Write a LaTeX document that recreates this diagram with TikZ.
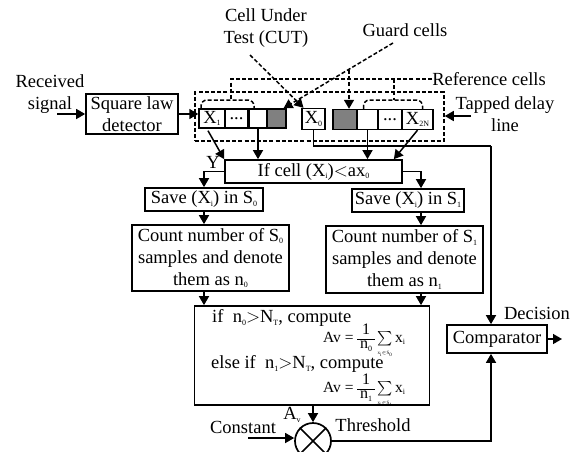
\documentclass[tikz,border=0pt]{standalone}
\usepackage{amsmath}
\usepackage{fix-cm}
\usepackage{fontspec}
\setmainfont{Liberation Serif}
\usepackage{tikz}
\usetikzlibrary{arrows.meta, positioning}
\definecolor{cellGray}{RGB}{128,128,128}
\newcommand{\lowtx}[1]{\raisebox{-0.3ex}{\fontsize{8}{8}\selectfont #1}}
\newcommand{\fracone}[1]{\begingroup\renewcommand{\arraystretch}{0.85}\fontsize{16}{16}\selectfont
  $\vcenter{\hbox{\begin{tabular}{@{\,}c@{\,}}1\\\hline n\lowtx{#1}\end{tabular}}}$\endgroup}
\newcommand{\avform}[1]{\fontsize{15.5}{16}\selectfont Av = \fracone{#1}\,$\mathop{\sum}\limits_{\text{\fontsize{5}{5}\selectfont x\textsubscript{i}$\in$S\textsubscript{#1}}}$\,x\lowtx{i}}

\begin{document}
\begin{tikzpicture}[x=1pt, y=-1pt,
  box/.style={rectangle, draw, line width=1.7pt, fill=white, inner sep=0pt, align=center,
              font=\fontsize{18.5}{22}\selectfont},
  cell/.style={box, line width=1.4pt},
  graycell/.style={cell, fill=cellGray},
  label/.style={inner sep=0pt, align=center, font=\fontsize{18.5}{22.5}\selectfont},
  arrow/.style={-{Triangle[length=9pt,width=10pt]}, line width=1.5pt},
  wire/.style={line width=1.5pt},
  dashline/.style={line width=1.5pt, dash pattern=on 4pt off 2.2pt}
]
\clip (0,0) rectangle (576,451);
% Tapped delay line
\node[draw, dashline, minimum width=249pt, minimum height=49pt, inner sep=0pt] (delay) at (319.5,116.5) {};
\node[cell, minimum width=26pt, minimum height=19pt] (x1) at (212,118.5) {X\lowtx{1}};
\node[cell, minimum width=23pt, minimum height=19pt] (dotsl) at (236.5,118.5) {...};
\node[cell, minimum width=18pt, minimum height=19pt] (celll) at (258,118.5) {};
\node[graycell, minimum width=19pt, minimum height=19pt] (guardl) at (276.5,118.5) {};
\node[cell, minimum width=23pt, minimum height=21pt] (x0) at (313.5,119) {X\lowtx{0}};
\node[graycell, minimum width=24pt, minimum height=20pt] (guardr) at (345,119.5) {};
\node[cell, minimum width=21pt, minimum height=20pt] (cellr) at (367.5,119.5) {};
\node[cell, minimum width=24pt, minimum height=20pt] (dotsr) at (390,119.5) {...};
\node[cell, minimum width=31pt, minimum height=20pt] (x2n) at (417.5,119.5) {X\lowtx{2N}};
% Flow boxes
\node[box, minimum width=92pt, minimum height=40pt] (sqlaw) at (132,114) {Square law\\detector};
\node[box, minimum width=177pt, minimum height=23pt] (ifcell) at (313.5,171.5) {If cell (X\lowtx{i})$<$ax\lowtx{0}};
\node[box, minimum width=118pt, minimum height=23pt] (saves0) at (204,199.5) {Save (X\lowtx{i}) in S\lowtx{0}};
\node[box, minimum width=112pt, minimum height=23pt] (saves1) at (408,200.5) {Save (X\lowtx{i}) in S\lowtx{1}};
\node[box, minimum width=157pt, minimum height=66pt] (counts0) at (210.5,258) {Count number of S\lowtx{0}\\samples and denote\\them as n\lowtx{0}};
\node[box, minimum width=157pt, minimum height=67pt] (counts1) at (404.5,259.5) {Count number of S\lowtx{1}\\samples and denote\\them as n\lowtx{1}};
\node[box, minimum width=235pt, minimum height=99pt] (bigbox) at (312,355.5) {};
\node[box, minimum width=100pt, minimum height=28pt] (comparator) at (497,339) {Comparator};
\node[draw, circle, line width=1.7pt, fill=white, minimum size=36pt, inner sep=0pt] (mixer) at (313,441) {};
\draw[wire] (mixer.north west) -- (mixer.south east);
\draw[wire] (mixer.north east) -- (mixer.south west);
% Text inside the large box
\node[label, anchor=west] (ifn0) at (212,318) {if~ n\lowtx{0}$>$N\lowtx{T}, compute};
\node[label, anchor=west] (form0) at (323,341) {\avform{0}};
\node[label, anchor=west] (ifn1) at (211,364) {else if~ n\lowtx{1}$>$N\lowtx{T}, compute};
\node[label, anchor=west] (form1) at (323,391) {\avform{1}};
% Labels
\node[label] (received) at (50,94) {Received\\signal};
\node[label] (cutlabel) at (266,28) {Cell Under\\Test (CUT)};
\node[label] (guardlabel) at (405,30) {Guard cells};
\node[label] (reflabel) at (489,79) {Reference cells};
\node[label] (tapped) at (505,114) {Tapped delay\\line};
\node[label] (ylabel) at (213,162) {Y};
\node[label] (decision) at (537,313) {Decision};
\node[label] (constant) at (243,427) {Constant};
\node[label] (avlabel) at (292,415) {A\lowtx{v}};
\node[label] (threshold) at (373,425) {Threshold};
% Free ends and bends
\coordinate (recvstart) at (57,114);
\coordinate (tapstart) at (471,116);
\coordinate (x0turn) at (491,146);
\coordinate (rcol) at (421,171);
\coordinate (decend) at (562,339);
\coordinate (conststart) at (248,438);
\coordinate (guardstart) at (393,43);
\coordinate (cutstart) at (250,55);
\coordinate (guardbr) at (349,70);
\coordinate (refl) at (231,79);
\coordinate (refr) at (394,79);
\coordinate (bracel) at (231,100);
\coordinate (bracer) at (394,100);
% Signal path
\draw[arrow] (recvstart) -- (sqlaw.west |- recvstart);
\draw[arrow] (sqlaw.east) -- (x1.west |- sqlaw.east);
\draw[arrow] (tapstart) -- (delay.east |- tapstart);
\draw[arrow] (x1.south) ++(-4,2) -- (ifcell.north west);
\draw[arrow] (celll.south) -- (celll.south |- ifcell.north);
\draw[arrow] (cellr.south) -- (cellr.south |- ifcell.north);
\draw[arrow] (x2n.south) -- ([xshift=-9pt]ifcell.north east);
\draw[wire] (x0.south) |- (x0turn);
\draw[arrow] (x0turn) -- (x0turn |- comparator.north);
% Decision branches
\draw[arrow] (ifcell.west) -| (saves0.north);
\draw[arrow] (ifcell.east) -| (rcol |- saves1.north);
\draw[arrow] (saves0.south) -- (saves0.south |- counts0.north);
\draw[arrow] (rcol |- saves1.south) -- (rcol |- counts1.north);
\draw[arrow] (saves0.south |- counts0.south) -- (saves0.south |- bigbox.north);
\draw[arrow] (rcol |- counts1.south) -- (rcol |- bigbox.north);
% Threshold and output
\draw[arrow] (mixer.north |- bigbox.south) -- (mixer.north);
\draw[arrow] (conststart) -- (mixer.west |- conststart);
\draw[arrow] (mixer.east) -| (x0turn |- comparator.south);
\draw[arrow] (comparator.east) -- (decend);
% Dashed pointers
\draw[dashline] (reflabel.west) -- (refl) -- (bracel);
\draw[dashline] (refr) -- (bracer);
\draw[dashline, rounded corners=6pt] (x1.north) ++(-11,0) |- (bracel) -| ([xshift=-4pt]celll.north);
\draw[dashline, rounded corners=6pt] (cellr.north) ++(-4,0) |- (bracer) -| ([xshift=5pt]x2n.north);
\draw[dashline, -{Triangle[length=9pt,width=10pt]}] (cutstart) -- ([xshift=-10pt]x0.north);
\draw[dashline, -{Triangle[length=9pt,width=10pt]}] (guardstart) -- ([xshift=7pt]guardl.north);
\draw[dashline, -{Triangle[length=9pt,width=10pt]}] (guardbr) -- (guardbr |- guardr.north);
\end{tikzpicture}
\end{document}
